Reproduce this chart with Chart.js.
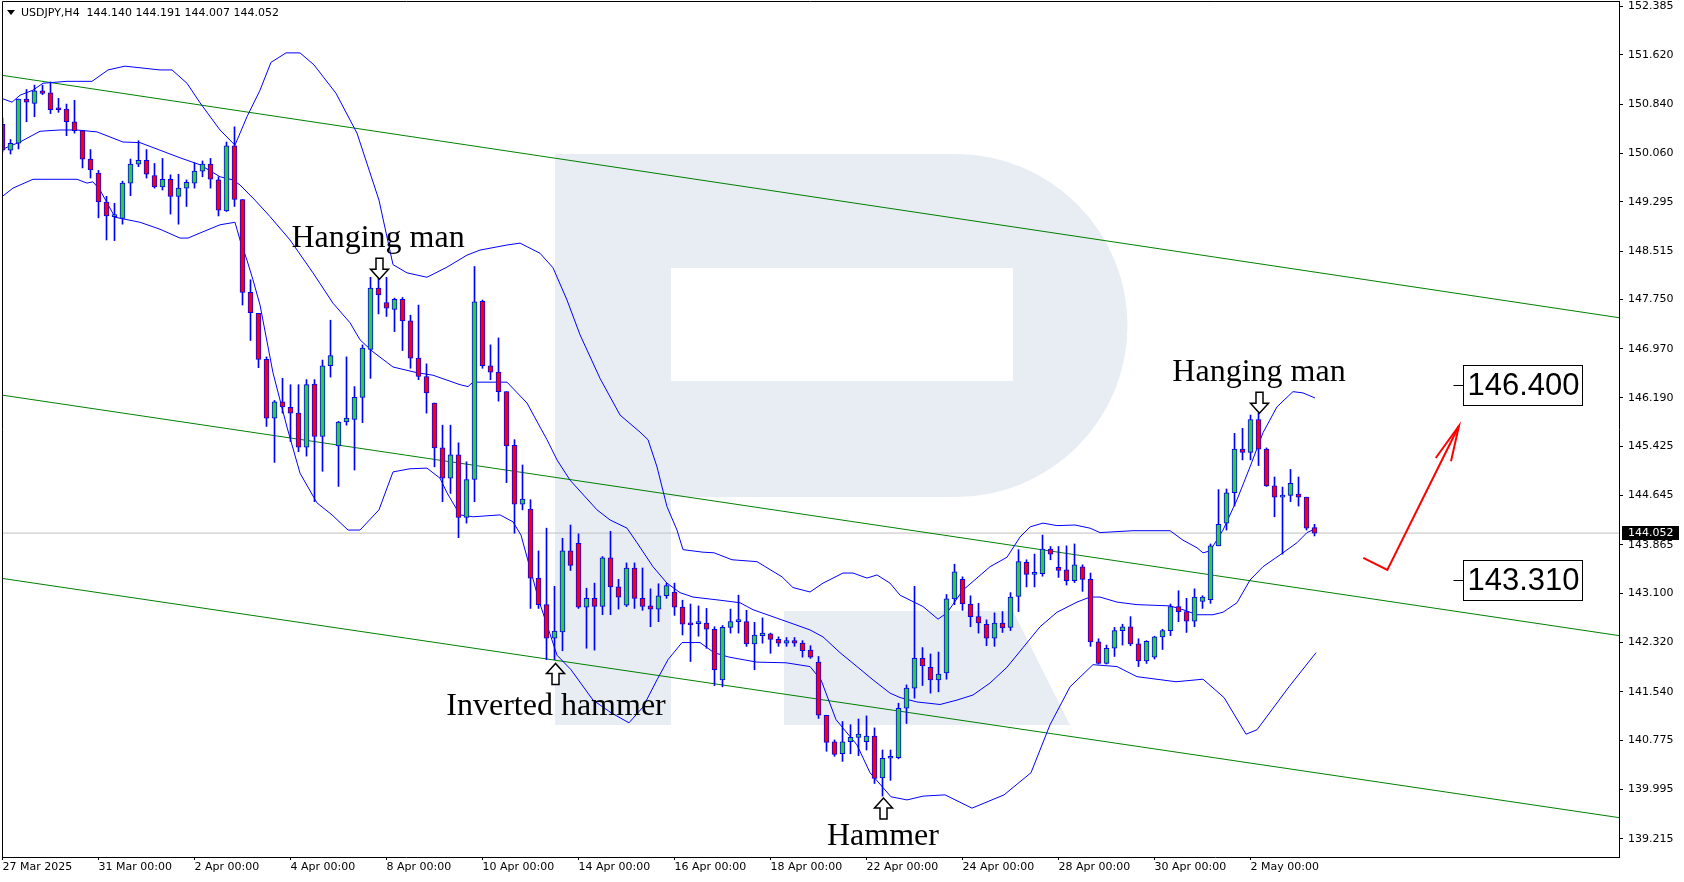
<!DOCTYPE html>
<html>
<head>
<meta charset="utf-8">
<title>USDJPY H4</title>
<script src="https://cdn.jsdelivr.net/npm/chart.js"></script>
<style>
  body { margin: 0; background: #fff; }
  #wrap { width: 1684px; height: 882px; }
</style>
</head>
<body>
<div id="wrap"><canvas id="chart" width="1684" height="882"></canvas></div>
<script>
// time axis: bar index of each date label
const dateTickIdx = [0, 12, 24, 36, 48, 60, 72, 84, 96, 108, 120, 132, 144, 156];
const dateLabels = ['27 Mar 2025', '31 Mar 00:00', '2 Apr 00:00', '4 Apr 00:00', '8 Apr 00:00', '10 Apr 00:00',
  '14 Apr 00:00', '16 Apr 00:00', '18 Apr 00:00', '22 Apr 00:00', '24 Apr 00:00', '28 Apr 00:00',
  '30 Apr 00:00', '2 May 00:00'];
const priceTicks = [152.385, 151.620, 150.840, 150.060, 149.295, 148.515, 147.750, 146.970, 146.190,
  145.425, 144.645, 143.865, 143.100, 142.320, 141.540, 140.775, 139.995, 139.215];

// H4 candles
const openP = [150.52,150.11,150.22,150.92,150.85,151.05,151.02,150.76,150.76,150.56,
  150.42,149.97,149.75,149.29,149.06,149.03,149.59,149.89,149.95,149.71,
  149.53,149.65,149.38,149.51,149.59,149.78,149.89,149.64,149.15,150.18,
  149.33,147.86,147.53,146.80,145.87,146.13,146.04,145.95,145.41,146.41,
  145.58,146.70,145.43,145.81,145.85,146.20,146.96,147.93,147.70,147.59,
  147.75,147.41,146.82,146.53,146.11,145.40,144.92,145.29,144.30,144.90,
  147.72,146.70,146.60,146.29,145.44,144.51,144.43,143.34,142.92,142.39,
  142.49,143.77,143.89,142.88,143.02,142.89,143.66,143.20,142.91,143.50,
  143.02,142.90,142.85,143.06,143.12,142.88,142.61,142.62,142.63,142.53,
  141.73,142.56,142.65,142.65,142.30,142.43,142.46,142.37,142.31,142.35,
  142.31,142.20,142.01,141.17,140.75,140.56,140.75,140.82,140.75,140.84,
  140.18,140.49,140.50,141.28,141.60,142.07,141.93,141.73,141.84,143.01,
  143.32,142.93,142.73,142.61,142.39,142.63,142.56,143.05,143.59,143.40,
  143.41,143.80,143.51,143.47,143.30,143.52,143.32,142.33,141.99,142.23,
  142.51,142.57,142.30,142.03,142.09,142.41,142.51,142.89,142.81,142.66,
  142.97,143.00,143.85,144.21,144.69,145.38,145.33,145.85,145.38,144.80,
  144.62,144.65,144.67,144.62,144.140];
const highP = [150.62,150.28,150.92,151.07,151.14,151.14,151.19,150.93,150.84,150.90,
  150.42,150.12,149.79,149.38,149.27,149.62,149.97,150.26,150.12,149.90,
  149.98,149.72,149.73,149.64,149.91,149.94,149.98,149.69,150.24,150.48,
  149.33,148.06,147.53,146.84,146.15,146.50,146.40,146.40,146.48,146.48,
  146.79,147.42,145.82,146.84,146.37,147.03,148.10,148.19,148.10,147.77,
  147.78,147.50,147.66,146.73,146.11,145.76,145.76,145.48,145.18,148.27,
  147.74,147.03,147.14,146.29,145.53,145.13,144.58,143.77,144.13,143.21,
  143.97,144.18,144.04,143.18,143.26,143.68,144.08,143.32,143.58,143.58,
  143.50,143.17,143.25,143.26,143.26,142.99,142.93,142.90,142.86,142.57,
  142.59,142.85,143.07,142.83,142.64,142.71,142.47,142.41,142.40,142.40,
  142.35,142.27,142.10,141.17,140.78,141.07,141.02,141.11,141.16,140.97,
  140.62,140.62,141.36,141.65,143.21,142.24,142.14,142.17,143.08,143.56,
  143.36,143.06,142.94,142.68,142.79,142.81,143.11,143.79,143.63,143.72,
  144.02,143.84,143.84,143.85,143.88,143.55,143.42,142.38,142.28,142.56,
  142.61,142.73,142.38,142.35,142.42,142.53,142.93,143.14,143.02,143.17,
  143.06,143.88,144.74,144.75,145.63,145.71,145.92,145.95,145.40,144.94,
  144.78,145.06,144.94,144.62,144.191];
const lowP = [150.08,150.05,150.13,150.56,150.64,150.99,150.69,150.71,150.34,150.38,
  149.83,149.67,149.04,148.69,148.68,148.94,149.39,149.85,149.67,149.51,
  149.48,149.10,148.94,149.22,149.51,149.69,149.51,149.07,149.14,149.22,
  147.66,147.10,146.67,145.74,145.17,145.95,145.50,145.34,145.27,144.55,
  145.03,146.52,144.79,145.76,145.05,145.80,146.50,147.52,147.48,147.24,
  146.94,146.66,146.48,145.95,145.10,144.55,144.68,143.98,144.21,144.55,
  146.66,146.48,146.14,144.85,144.05,144.42,142.86,142.86,142.05,142.05,
  142.19,143.46,142.86,142.23,142.20,142.76,142.76,142.85,142.89,142.86,
  142.83,142.57,142.65,143.02,142.75,142.44,142.02,142.42,142.23,141.64,
  141.62,142.47,142.47,142.26,141.89,142.31,142.15,142.26,142.26,142.26,
  142.09,142.07,141.12,140.60,140.52,140.44,140.56,140.53,140.62,140.09,
  139.89,140.14,140.48,141.04,141.44,141.64,141.52,141.54,141.74,142.92,
  142.83,142.57,142.47,142.27,142.26,142.48,142.51,142.81,143.20,143.20,
  143.37,143.63,143.35,143.23,143.27,143.13,142.26,141.98,141.98,142.10,
  142.28,142.27,141.94,141.99,142.06,142.21,142.43,142.65,142.48,142.57,
  142.86,142.94,143.85,144.10,144.48,145.21,145.21,145.12,144.79,144.31,
  143.72,144.55,144.48,144.10,144.007];
const closeP = [150.11,150.22,150.92,150.87,151.05,151.01,150.75,150.75,150.56,150.42,
  149.97,149.80,149.29,149.07,149.07,149.59,149.89,149.95,149.73,149.53,
  149.65,149.38,149.51,149.60,149.78,149.89,149.65,149.16,150.18,149.33,
  147.86,147.54,146.80,145.87,146.13,146.05,145.95,145.41,146.40,145.58,
  146.70,146.86,145.81,145.87,146.20,146.98,147.93,147.82,147.61,147.75,
  147.41,146.82,146.53,146.27,145.40,144.92,145.29,144.30,144.90,147.71,
  146.70,146.60,146.29,145.43,144.51,144.59,143.34,142.92,142.39,142.50,
  143.77,143.54,142.88,143.02,142.89,143.66,143.20,143.04,143.50,143.02,
  142.89,142.85,143.06,143.22,142.88,142.61,142.60,142.63,142.53,141.89,
  142.56,142.65,142.66,142.30,142.44,142.47,142.37,142.31,142.35,142.31,
  142.19,142.09,141.17,140.74,140.55,140.75,140.82,140.87,140.84,140.17,
  140.49,140.50,141.28,141.60,142.07,141.95,141.73,141.82,143.01,143.44,
  142.93,142.73,142.63,142.39,142.63,142.55,143.04,143.60,143.40,143.41,
  143.80,143.72,143.46,143.30,143.55,143.32,142.33,141.99,142.23,142.51,
  142.57,142.30,142.03,142.34,142.41,142.51,142.89,142.81,142.66,143.04,
  143.04,143.85,144.19,144.69,145.38,145.33,145.85,145.38,144.80,144.62,
  144.65,144.84,144.62,144.13,144.052];

// Bollinger bands as [bar index, price]
const upperBand = [[-0.31,150.94],[1.19,150.87],[2.19,150.98],[3.81,151.06],[5.06,151.17],[8.06,151.20],
  [11.19,151.20],[13.19,151.38],[15.31,151.44],[19.69,151.38],[21.19,151.38],[23.06,151.17],[24.69,150.86],
  [27.19,150.43],[29.06,150.19],[30.56,150.64],[32.19,151.06],[33.56,151.50],[35.44,151.65],[37.19,151.65],
  [38.94,151.46],[41.69,151.01],[44.31,150.38],[47.06,149.32],[48.81,148.30],[50.56,148.17],[53.06,148.10],
  [55.56,148.26],[58.06,148.45],[59.69,148.53],[63.06,148.61],[64.69,148.64],[67.19,148.48],[68.81,148.25],
  [70.56,147.74],[72.19,147.19],[74.69,146.50],[77.19,145.92],[79.69,145.65],[80.69,145.53],[81.81,145.10],
  [83.06,144.47],[84.31,144.10],[85.06,143.79],[87.56,143.75],[88.94,143.74],[91.19,143.63],[94.31,143.60],
  [97.44,143.36],[98.81,143.19],[100.94,143.12],[102.56,143.26],[105.06,143.42],[106.31,143.42],[108.06,143.34],
  [109.31,143.39],[110.94,143.26],[112.19,143.07],[115.06,142.89],[116.94,142.69],[118.06,142.79],[120.06,143.15],
  [123.44,143.52],[125.56,143.67],[127.19,143.99],[128.44,144.15],[130.06,144.21],[131.81,144.17],[134.06,144.18],
  [135.94,144.13],[137.19,144.06],[141.31,144.09],[145.94,144.09],[147.56,143.94],[149.31,143.82],[150.06,143.74],
  [150.94,143.77],[152.56,144.10],[154.31,144.58],[155.94,145.10],[157.56,145.64],[159.31,146.05],[161.31,146.29],
  [162.56,146.27],[164.06,146.19]];
const middleBand = [[-0.31,150.11],[2.19,150.24],[4.69,150.41],[7.19,150.43],[9.31,150.43],[11.81,150.40],
  [15.06,150.24],[17.19,150.23],[19.69,150.11],[22.19,149.99],[24.69,149.88],[27.19,149.69],[28.81,149.64],
  [29.69,149.56],[31.56,149.32],[33.44,149.06],[35.94,148.69],[38.81,148.17],[41.31,147.69],[43.44,147.38],
  [44.69,147.11],[46.31,146.92],[48.81,146.68],[51.81,146.59],[53.81,146.55],[57.19,146.40],[58.19,146.37],
  [58.81,146.44],[63.06,146.44],[65.56,146.11],[67.19,145.73],[68.06,145.53],[69.31,145.21],[70.94,144.89],
  [74.31,144.42],[75.94,144.26],[78.06,144.13],[79.31,143.90],[81.31,143.52],[83.06,143.26],[84.69,143.11],
  [86.31,143.04],[89.69,142.99],[92.19,142.95],[93.81,142.84],[98.06,142.65],[100.94,142.52],[102.56,142.41],
  [104.69,142.16],[106.81,141.94],[108.81,141.73],[110.94,141.52],[112.19,141.45],[114.31,141.38],[117.19,141.34],
  [119.31,141.41],[121.31,141.49],[123.44,141.68],[125.56,141.93],[127.56,142.24],[129.69,142.57],[131.81,142.80],
  [134.31,142.96],[135.94,143.04],[137.19,143.04],[139.31,142.96],[141.81,142.92],[145.94,142.90],[147.56,142.84],
  [149.31,142.76],[151.31,142.76],[152.56,142.80],[154.31,142.95],[155.94,143.31],[157.56,143.52],[160.06,143.74],
  [161.81,143.90],[163.06,144.06],[164.31,144.13]];
const lowerBand = [[-0.31,149.35],[1.31,149.51],[3.81,149.65],[9.31,149.65],[10.56,149.59],[11.31,149.61],
  [12.19,149.48],[14.06,149.05],[17.19,148.97],[19.69,148.86],[22.19,148.72],[23.19,148.72],[24.69,148.80],
  [27.19,148.93],[29.06,148.97],[29.69,148.69],[30.56,148.37],[31.31,148.06],[32.19,147.66],[33.81,146.59],
  [35.56,145.73],[37.19,145.00],[39.31,144.53],[41.19,144.34],[43.19,144.10],[44.69,144.10],[47.06,144.42],
  [48.81,145.02],[50.94,145.07],[53.06,145.08],[54.69,144.92],[55.56,144.69],[57.19,144.34],[58.81,144.31],
  [62.19,144.34],[63.81,144.23],[64.81,144.02],[67.06,142.98],[69.31,142.12],[71.06,141.89],[73.81,141.41],
  [76.06,141.21],[78.31,141.05],[80.06,141.30],[81.81,141.73],[83.19,142.05],[84.94,142.32],[87.19,142.32],
  [88.94,142.16],[90.81,142.09],[94.31,142.01],[97.94,142.00],[100.94,141.94],[102.31,141.73],[104.19,141.10],
  [106.81,140.70],[108.44,140.26],[111.06,139.88],[113.06,139.83],[115.06,139.89],[117.81,139.91],[121.19,139.70],
  [125.19,139.91],[128.56,140.26],[130.94,141.02],[133.44,141.62],[136.31,141.97],[139.31,141.94],[141.81,141.78],
  [146.69,141.70],[150.06,141.74],[152.69,141.45],[155.44,140.87],[156.81,140.94],[160.81,141.62],[164.19,142.16]];

// descending channel
const channelUpper = [[-0.31, 151.30], [202.06, 147.46]];
const channelMiddle = [[-0.31, 146.24], [202.06, 142.43]];
const channelLower = [[-0.31, 143.34], [202.06, 139.55]];

const lastPrice = 144.052;
const targetLevels = [146.400, 143.310];
const targetIdx = 182.5;
const forecastPath = [[170.1, 143.66], [173.1, 143.47], [182.06, 145.75]];
const forecastHead = [[179.15, 145.24], [182.06, 145.75], [181.06, 145.19]];

// candle patterns: label centre, label baseline, arrow bar and arrow tip
const patterns = [
  { text: 'Hanging man', x: 46.94, y: 148.58, bar: 47, tip: 148.07, dir: 'down' },
  { text: 'Inverted hammer', x: 69.19, y: 141.18, bar: 69, tip: 141.99, dir: 'up' },
  { text: 'Hammer', x: 110.06, y: 139.12, bar: 110, tip: 139.86, dir: 'up' },
  { text: 'Hanging man', x: 157.06, y: 146.46, bar: 157, tip: 145.95, dir: 'down' }
];

const bars = closeP.map((c, i) => i);
const bodies = bars.map(i => ({ x: i, y: [openP[i], closeP[i]] }));
const wicks = bars.map(i => ({ x: i, y: [lowP[i], highP[i]] }));
const bodyColors = bars.map(i => closeP[i] >= openP[i] ? '#32cd32' : '#ff0000');
const pts = arr => arr.map(p => ({ x: p[0], y: p[1] }));

function lineSet(data, color, order, width) {
  return {
    type: 'line', data: pts(data), borderColor: color, borderWidth: width || 1,
    pointRadius: 0, tension: 0, fill: false, order: order
  };
}

function drawArrow(ctx, px, py, dir) {
  const s = dir === 'down' ? -1 : 1;
  ctx.beginPath();
  ctx.moveTo(px, py);
  ctx.lineTo(px - 9, py + s * 10);
  ctx.lineTo(px - 3.5, py + s * 10);
  ctx.lineTo(px - 3.5, py + s * 21);
  ctx.lineTo(px + 3.5, py + s * 21);
  ctx.lineTo(px + 3.5, py + s * 10);
  ctx.lineTo(px + 9, py + s * 10);
  ctx.closePath();
  ctx.fillStyle = '#fff';
  ctx.fill();
  ctx.strokeStyle = '#000';
  ctx.lineWidth = 1.5;
  ctx.stroke();
}

const overlay = {
  id: 'overlay',
  beforeDatasetsDraw(chart) {
    // faint logo behind the candles
    const ctx = chart.ctx, a = chart.chartArea;
    ctx.save();
    ctx.beginPath();
    ctx.rect(a.left, a.top, a.right - a.left, a.bottom - a.top);
    ctx.clip();
    ctx.fillStyle = '#e8edf4';
    ctx.fillRect(555, 154, 116, 571);
    ctx.beginPath();
    ctx.moveTo(555, 154);
    ctx.lineTo(956, 154);
    ctx.arc(956, 325.5, 171.5, -Math.PI / 2, Math.PI / 2);
    ctx.lineTo(555, 497);
    ctx.closePath();
    ctx.fill();
    ctx.beginPath();
    ctx.moveTo(784, 611);
    ctx.lineTo(1013, 611);
    ctx.lineTo(1070, 725);
    ctx.lineTo(784, 725);
    ctx.closePath();
    ctx.fill();
    ctx.fillStyle = '#fff';
    ctx.fillRect(671, 268, 342, 113);
    ctx.restore();
  },
  afterDraw(chart) {
    const ctx = chart.ctx, a = chart.chartArea;
    const xs = chart.scales.x, ys = chart.scales.y;
    ctx.save();

    // frame (left and top, axes draw the others)
    ctx.strokeStyle = '#000';
    ctx.lineWidth = 1;
    ctx.beginPath();
    ctx.moveTo(a.left + 0.5, a.bottom);
    ctx.lineTo(a.left + 0.5, a.top + 0.5);
    ctx.lineTo(a.right, a.top + 0.5);
    ctx.stroke();

    // header
    ctx.fillStyle = '#000';
    ctx.beginPath();
    ctx.moveTo(7, 10); ctx.lineTo(15, 10); ctx.lineTo(11, 15); ctx.closePath();
    ctx.fill();
    ctx.font = '11px "DejaVu Sans"';
    ctx.textBaseline = 'middle';
    ctx.textAlign = 'left';
    ctx.fillText('USDJPY,H4  ' + openP[openP.length - 1].toFixed(3) + ' ' + highP[highP.length - 1].toFixed(3) + ' ' +
      lowP[lowP.length - 1].toFixed(3) + ' ' + closeP[closeP.length - 1].toFixed(3), 21, 13);

    // pattern labels
    ctx.font = '32px "Liberation Serif"';
    ctx.textAlign = 'center';
    ctx.textBaseline = 'alphabetic';
    patterns.forEach(p => {
      ctx.fillStyle = '#000';
      ctx.fillText(p.text, xs.getPixelForValue(p.x), ys.getPixelForValue(p.y));
      drawArrow(ctx, Math.round(xs.getPixelForValue(p.bar)) + 0.5, ys.getPixelForValue(p.tip), p.dir);
    });

    // target boxes
    ctx.font = '31px "Liberation Sans"';
    ctx.textAlign = 'left';
    ctx.textBaseline = 'middle';
    ctx.lineWidth = 1;
    targetLevels.forEach(v => {
      const bx = Math.round(xs.getPixelForValue(targetIdx)) + 0.5;
      const by = Math.round(ys.getPixelForValue(v)) + 0.5;
      ctx.strokeStyle = '#000';
      ctx.beginPath();
      ctx.moveTo(bx - 10, by); ctx.lineTo(bx, by);
      ctx.stroke();
      ctx.fillStyle = '#fff';
      ctx.fillRect(bx, by - 20, 119, 40);
      ctx.strokeRect(bx, by - 20, 119, 40);
      ctx.fillStyle = '#000';
      ctx.fillText(v.toFixed(3), bx + 4, by + 1);
    });

    // current price tag on the axis
    const py = Math.round(ys.getPixelForValue(lastPrice));
    ctx.fillStyle = '#000';
    ctx.fillRect(a.right + 3, py - 7, 57, 14);
    ctx.fillStyle = '#fff';
    ctx.font = '11px "DejaVu Sans"';
    ctx.fillText(lastPrice.toFixed(3), a.right + 9, py + 0.5);
    ctx.restore();
  }
};

Chart.defaults.font.family = '"DejaVu Sans"';
Chart.defaults.font.size = 11;
Chart.defaults.color = '#000';

new Chart(document.getElementById('chart'), {
  type: 'bar',
  data: {
    datasets: [
      {
        data: bodies, backgroundColor: bodyColors, borderColor: '#0000ff', borderWidth: 1,
        borderSkipped: false, barThickness: 5, minBarLength: 2, grouped: false, order: 0
      },
      {
        data: wicks, backgroundColor: '#0000ff', borderWidth: 0,
        barThickness: 1, grouped: false, order: 1
      },
      lineSet(upperBand, '#0000ff', 2),
      lineSet(middleBand, '#0000ff', 2),
      lineSet(lowerBand, '#0000ff', 2),
      lineSet(channelUpper, '#008000', 3),
      lineSet(channelMiddle, '#008000', 3),
      lineSet(channelLower, '#008000', 3),
      lineSet([[-1, lastPrice], [204, lastPrice]], '#c0c0c0', 4),
      lineSet(forecastPath, '#ff0000', -1, 2),
      lineSet(forecastHead, '#ff0000', -1, 2)
    ]
  },
  options: {
    responsive: false,
    animation: false,
    layout: { padding: { left: 2, top: 1, right: 0, bottom: 0 } },
    plugins: { legend: { display: false }, tooltip: { enabled: false } },
    scales: {
      x: {
        type: 'linear', min: -0.0625, max: 202.06, offset: false,
        grid: { display: true, drawOnChartArea: false, drawTicks: true, tickLength: 3, color: '#000', offset: false },
        border: { display: true, color: '#000' },
        ticks: { autoSkip: false, maxRotation: 0, align: 'start', padding: 1, color: '#000',
          callback: (v, i) => dateLabels[i] },
        afterBuildTicks: s => { s.ticks = dateTickIdx.map(v => ({ value: v })); },
        afterFit: s => { s.height = 25; s.paddingLeft = 0; s.paddingRight = 0; }
      },
      y: {
        type: 'linear', position: 'right', min: 138.927, max: 152.471,
        grid: { display: true, drawOnChartArea: false, drawTicks: true, tickLength: 4, color: '#000' },
        border: { display: true, color: '#000' },
        ticks: { autoSkip: false, padding: 5, color: '#000', callback: v => v.toFixed(3) },
        afterBuildTicks: s => { s.ticks = priceTicks.map(v => ({ value: v })); },
        afterFit: s => { s.width = 65; s.paddingTop = 0; s.paddingBottom = 0; }
      }
    }
  },
  plugins: [overlay]
});
</script>
</body>
</html>
